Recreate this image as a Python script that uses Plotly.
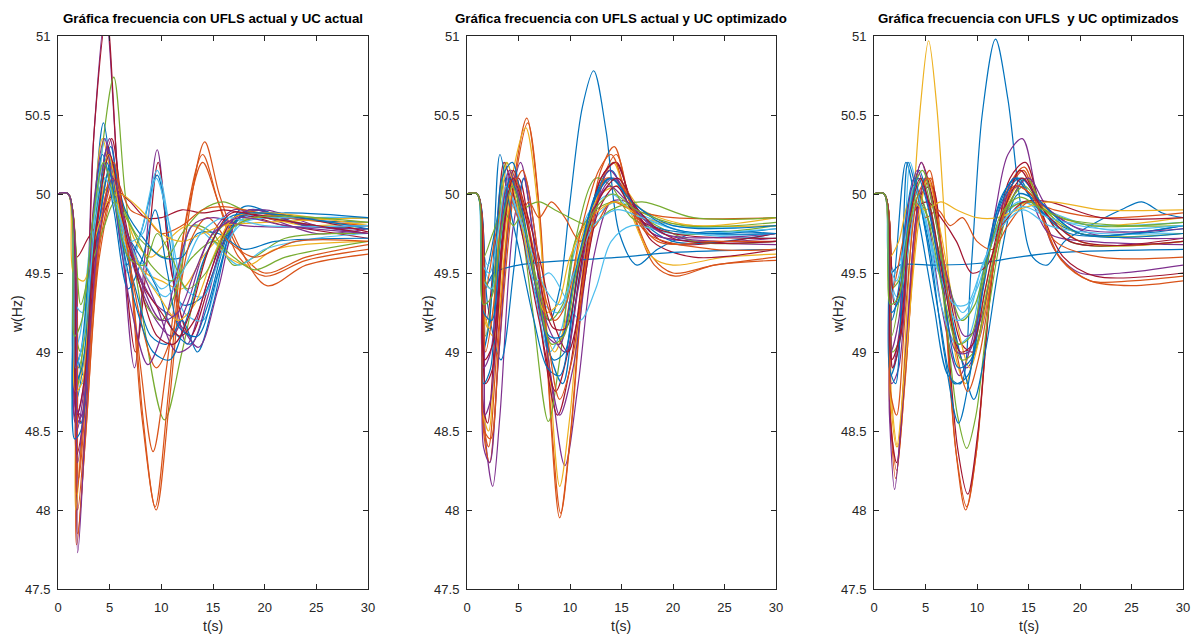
import plotly.graph_objects as go

# MATLAB default line colour order
COLORS = ['#0072BD', '#D95319', '#EDB120', '#7E2F8E', '#77AC30', '#4DBEEE', '#A2142F']

TITLES = [
    'Gráfica frecuencia con UFLS actual y UC actual',
    'Gráfica frecuencia con UFLS actual y UC optimizado',
    'Gráfica frecuencia con UFLS  y UC optimizados',
]

X_TICKS = [0, 5, 10, 15, 20, 25, 30]
Y_TICKS = [47.5, 48, 48.5, 49, 49.5, 50, 50.5, 51]
Y_TICKTEXT = ['47.5', '48', '48.5', '49', '49.5', '50', '50.5', '51']

# --- Scenario 1: UFLS actual, UC actual  (t [s], f [Hz]) ---
p1_curves = [
    [(0,50),(1,50),(1.8,48.6),(2.4,48.75),(3.4,50.3),(4.6,51.15),(5.7,50.2),(7.4,48.9),(8.4,49.6),(9.6,50.28),(10.8,49.6),(12.5,49.05),(14.5,49.45),(17,49.85),(20,49.85),(25,49.75),(30,49.78)],
    [(0,50),(1,50),(1.7,48.7),(2.3,48.55),(3.5,50.4),(4.7,51.12),(5.8,50.1),(7.5,49.0),(8.5,49.5),(9.7,50.2),(11,49.5),(12.8,49.1),(15,49.5),(17.5,49.85),(22,49.8),(30,49.72)],
    [(0,50),(1,50),(2.0,48.9),(2.8,49.2),(4.3,50.3),(5.4,50.74),(6.5,50.0),(8,49.3),(10.3,48.57),(12,49.0),(14,49.55),(16,49.8),(20,49.85),(25,49.8),(30,49.78)],
    [(0,50),(1,50),(1.8,49.0),(2.5,48.85),(3.5,49.9),(4.4,50.45),(5.4,50.0),(6.6,49.55),(8,49.75),(9.6,50.12),(10.8,49.7),(12,49.3),(14,49.35),(16,49.7),(18,49.92),(22,49.85),(30,49.82)],
    [(0,50),(1,50),(1.7,48.9),(2.4,48.8),(3.6,49.9),(4.6,50.35),(5.6,49.95),(6.8,49.5),(8.2,49.8),(9.6,50.15),(10.9,49.75),(12.2,49.25),(14,49.2),(16,49.6),(18,49.85),(22,49.85),(30,49.85)],
    [(0,50),(1,50),(1.8,47.78),(2.6,48.4),(4,49.6),(5.4,50.0),(6.8,49.6),(8.1,48.6),(9.5,48.0),(10.8,48.7),(12.5,49.8),(14.2,50.33),(15.6,50.0),(17.3,49.7),(20.2,49.42),(24,49.55),(30,49.62)],
    [(0,50),(1,50),(1.9,47.85),(2.7,48.5),(4.1,49.7),(5.5,50.05),(6.9,49.6),(8.2,48.6),(9.4,48.02),(10.7,48.75),(12.4,49.85),(14,50.25),(15.5,49.95),(17.5,49.6),(20,49.48),(24,49.58),(30,49.65)],
    [(0,50),(1,50),(1.9,48.0),(2.7,48.6),(4,49.8),(5.3,50.1),(6.8,49.6),(8,48.9),(9.2,48.37),(10.5,48.9),(12.3,49.8),(14,50.2),(15.5,49.95),(17.5,49.65),(20,49.5),(24,49.6),(30,49.68)],
    [(0,50),(1,50),(1.9,47.73),(2.7,48.6),(3.8,49.7),(5,50.15),(6,49.9),(7.5,49.5),(9.5,49.2),(11,49.1),(12.5,49.3),(14.5,49.7),(17,49.9),(20,49.85),(30,49.75)],
    [(0,50),(1,50),(1.7,48.0),(2.4,48.6),(3.5,49.9),(4.3,50.35),(5.2,50.1),(6.5,49.7),(8.5,49.5),(10,49.45),(12,49.4),(14,49.6),(16,49.75),(19,49.85),(24,49.8),(30,49.82)],
    [(0,50),(1,50),(1.6,48.6),(2.2,48.55),(3.3,49.5),(4.8,50.3),(6,49.8),(7.5,49.4),(9,49.1),(10.5,49.05),(12,49.2),(13.5,49.0),(15,49.3),(17,49.8),(19,49.9),(24,49.8),(30,49.78)],
    [(0,50),(1,50),(1.7,48.55),(2.3,48.6),(3.4,49.6),(5,50.35),(6.2,49.85),(7.8,49.5),(9.5,49.3),(11.5,49.2),(13.6,49.03),(15.5,49.4),(17.5,49.85),(20,49.9),(25,49.8),(30,49.75)],
    [(0,50),(1,50),(1.8,48.7),(2.6,49.0),(3.8,49.9),(5.1,50.3),(6.3,49.8),(8,49.6),(9.6,49.4),(11,49.15),(12.8,49.05),(14.5,49.3),(16.5,49.75),(18.5,49.9),(24,49.8),(30,49.8)],
    [(0,50),(1,50),(1.5,49.2),(2.2,49.0),(3.2,49.6),(4.5,50.1),(5.8,49.9),(7,49.7),(8.5,49.3),(10,49.2),(11.5,49.4),(13,49.8),(15,49.75),(17,49.55),(19,49.6),(22,49.72),(30,49.75)],
    [(0,50),(1,50),(1.5,49.0),(2.1,49.1),(3.3,49.8),(4.5,50.2),(5.6,49.9),(7,49.6),(8.4,49.55),(10,49.4),(11.5,49.5),(13,49.8),(15,49.7),(17.5,49.55),(20,49.65),(25,49.72),(30,49.75)],
    [(0,50),(1,50),(2,48.8),(2.8,49.1),(4,49.9),(5,50.15),(6.2,49.95),(7.5,49.7),(9,49.6),(10.5,49.7),(12.5,49.8),(14.5,49.75),(16.5,49.6),(18.5,49.55),(21,49.65),(30,49.7)],
    [(0,50),(1,50),(1.8,49.6),(2.9,49.72),(4.2,49.85),(5.6,50.02),(7,49.95),(8.5,49.85),(10,49.85),(12,49.9),(14,49.88),(16,49.9),(18,49.88),(22,49.85),(30,49.85)],
    [(0,50),(1,50),(1.6,48.7),(2.2,48.9),(3.6,49.8),(4.9,50.05),(6,49.95),(7.5,49.75),(9,49.65),(10.5,49.6),(12,49.75),(14,49.9),(16,49.95),(18,49.9),(24,49.85),(30,49.85)],
    [(0,50),(1,50),(1.6,48.8),(2.3,48.9),(3.5,49.6),(5.2,50.2),(6.5,49.9),(8.5,49.7),(10,49.6),(12,49.6),(13.5,49.75),(15.5,49.75),(18,49.65),(21,49.7),(30,49.72)],
    [(0,50),(1,50),(2,48.2),(2.8,48.8),(4.2,49.8),(5.5,50.1),(7,49.9),(8.5,49.85),(10,49.75),(12,49.8),(14,49.9),(16,49.92),(18,49.9),(22,49.85),(30,49.8)],
    [(0,50),(1,50),(1.8,48.5),(2.4,48.7),(3.6,49.7),(4.8,50.3),(6,49.9),(7.6,49.6),(9.5,49.3),(11.5,49.0),(13,49.05),(14.5,49.35),(16.5,49.8),(18.5,49.9),(24,49.8),(30,49.78)],
    [(0,50),(1,50),(1.7,49.3),(2.4,49.25),(3.6,49.9),(4.5,50.1),(5.6,49.95),(6.8,49.7),(8.2,49.75),(9.5,50.1),(10.8,49.8),(12.3,49.4),(14,49.35),(16,49.65),(18,49.82),(24,49.85),(30,49.85)],
    [(0,50),(1,50),(1.8,48.35),(2.5,48.6),(3.8,49.8),(5.2,50.35),(6.3,49.9),(8,49.45),(10,49.25),(11.8,49.1),(13.2,49.2),(15,49.55),(17,49.85),(20,49.88),(30,49.76)],
    [(0,50),(1,50),(1.5,49.5),(2.5,49.45),(3.5,49.7),(4.8,49.95),(6,50.0),(8,49.9),(10,49.75),(12,49.7),(14,49.75),(16,49.8),(20,49.82),(30,49.85)],
    [(0,50),(1,50),(2.2,49.3),(3,49.5),(4.5,49.8),(5.5,49.95),(7,49.8),(9,49.55),(11,49.45),(13,49.6),(15,49.7),(17,49.6),(19,49.52),(22,49.6),(30,49.7)],
    [(0,50),(1,50),(1.6,48.9),(2.2,49.0),(3.3,49.8),(4.3,50.25),(5.4,49.9),(6.8,49.4),(8.2,49.6),(9.4,49.9),(10.6,49.5),(11.8,49.15),(13.5,49.1),(15.5,49.5),(17.5,49.85),(22,49.88),(30,49.85)],
    [(0,50),(1,50),(1.8,48.1),(2.6,48.7),(4,49.7),(5.4,50.2),(6.6,49.7),(8,49.2),(9.5,48.9),(11,49.1),(12.8,49.7),(14.5,49.85),(16.5,49.7),(19,49.6),(23,49.7),(30,49.7)],
    [(0,50),(1,50),(1.7,48.65),(2.3,48.6),(3.4,49.9),(4.5,50.35),(5.6,49.9),(7,49.3),(8.7,48.92),(10,49.1),(11.5,49.5),(13,49.8),(15,49.85),(18,49.8),(30,49.8)],
    [(0,50),(1,50),(1.7,48.75),(2.3,48.8),(3.5,49.75),(4.9,50.25),(6.1,49.85),(7.8,49.55),(9.8,49.35),(11.6,49.2),(13.2,49.3),(15,49.6),(17,49.85),(20,49.88),(30,49.8)],
    [(0,50),(1,50),(1.6,48.45),(2.2,48.5),(3.4,49.7),(4.7,50.2),(5.9,49.8),(7.5,49.3),(9.2,49.0),(10.8,48.95),(12.4,49.2),(14.2,49.6),(16.5,49.85),(19,49.88),(30,49.78)],
    [(0,50),(1,50),(1.7,48.9),(2.5,49.1),(3.7,49.85),(4.6,50.1),(5.7,49.9),(7.2,49.65),(8.8,49.45),(10.4,49.35),(12,49.5),(13.8,49.75),(16,49.85),(20,49.8),(30,49.8)],
    [(0,50),(1,50),(1.8,48.6),(2.5,48.8),(3.7,49.8),(5,50.25),(6.2,49.85),(7.8,49.45),(9.6,49.1),(11.2,49.05),(12.8,49.25),(14.6,49.65),(16.8,49.88),(20,49.85),(30,49.75)],
    [(0,50),(1,50),(1.6,49.1),(2.3,49.2),(3.4,49.85),(4.4,50.2),(5.5,49.95),(6.8,49.6),(8.3,49.55),(9.6,49.75),(11,49.6),(12.5,49.4),(14.3,49.5),(16.3,49.75),(19,49.85),(30,49.82)],
    [(0,50),(1,50),(1.9,48.3),(2.7,48.8),(4,49.75),(5.3,50.1),(6.7,49.75),(8.3,49.4),(10,49.2),(11.6,49.25),(13.2,49.5),(15,49.75),(17.5,49.85),(22,49.8),(30,49.75)],
]
p1_colors = [3, 6, 4, 0, 5, 1, 1, 1, 3, 2, 0, 3, 0, 4, 5, 2, 6, 4, 0, 1, 3, 5, 6, 2, 4, 0, 1, 3,
             2, 0, 5, 6, 4, 3]

# --- Scenario 2: UFLS actual, UC optimizado ---
p2_curves = [
    [(0,50),(1,50),(1.8,48.45),(2.5,48.15),(3.2,48.6),(4.5,49.8),(5.6,50.1),(6.7,49.7),(8.2,48.8),(9.5,48.28),(10.8,48.8),(12.3,49.6),(14,49.95),(15.5,49.95),(18,49.75),(22,49.7),(30,49.68)],
    [(0,50),(1,50),(1.5,48.6),(2.1,48.4),(3,49.1),(4.6,50.1),(5.8,50.48),(7,49.9),(8,48.7),(9,47.95),(10,48.45),(11.5,49.6),(13,50.15),(14.3,50.3),(15.8,49.95),(18,49.6),(20,49.5),(24,49.55),(30,49.6)],
    [(0,50),(1,50),(1.6,48.5),(2.2,48.3),(3.1,49.0),(4.7,50.1),(5.9,50.45),(7.1,49.85),(8.1,48.65),(9.1,47.98),(10.1,48.5),(11.6,49.6),(13.2,50.1),(14.5,50.25),(16,49.9),(18.2,49.55),(20.2,49.48),(24,49.55),(30,49.58)],
    [(0,50),(1,50),(1.6,48.6),(2.1,48.5),(3,49.3),(4.5,50.15),(5.7,50.42),(6.9,49.9),(8,48.9),(9,48.15),(10,48.6),(11.4,49.6),(13,50.05),(14.2,50.2),(15.8,49.9),(18,49.6),(20,49.55),(25,49.6),(30,49.62)],
    [(0,50),(1,50),(1.5,48.7),(2,48.55),(3,49.4),(4,50.0),(5,50.1),(6,49.8),(7.5,49.0),(8.8,48.6),(10,48.9),(11.5,49.6),(13,50.1),(14.4,50.2),(16,49.95),(18,49.7),(22,49.6),(30,49.65)],
    [(0,50),(1,50),(1.8,49.5),(2.8,49.8),(3.8,50.1),(5,49.9),(6.5,49.4),(8,49.2),(9,49.4),(10,49.95),(11.2,50.55),(12.3,50.78),(13.5,50.4),(14.8,49.75),(16.5,49.55),(18.5,49.65),(22,49.75),(30,49.75)],
    [(0,50),(1,50),(1.5,49.6),(2.2,49.45),(3,49.6),(4,49.95),(5,49.85),(6.5,49.4),(8,49.0),(9.2,49.15),(10.3,49.6),(12,49.9),(14,50.0),(16,49.9),(20,49.8),(30,49.8)],
    [(0,50),(1,50),(1.4,49.7),(2,49.55),(2.8,49.7),(3.6,50.15),(4.5,49.95),(6,49.6),(7.5,49.3),(9,49.25),(10.5,49.55),(12.5,49.85),(14.5,49.95),(17,49.85),(22,49.75),(30,49.72)],
    [(0,50),(1,50),(2,49.3),(3.3,48.95),(4.5,49.5),(5.5,50.1),(6.5,49.7),(8,49.0),(9.3,48.8),(10.5,49.3),(12.5,50.0),(14,50.15),(16,49.9),(20,49.7),(30,49.75)],
    [(0,50),(1,50),(1.8,49.1),(2.8,49.6),(3.8,50.2),(4.8,50.0),(6.3,49.3),(7.9,48.56),(9,48.95),(10.5,49.7),(12.5,50.1),(14,50.05),(16,49.85),(20,49.75),(30,49.8)],
    [(0,50),(1,50),(1.7,49.4),(2.6,49.5),(5,49.55),(10,49.58),(15,49.6),(20,49.63),(30,49.65)],
    [(0,50),(1,50),(1.6,48.4),(2.2,48.3),(3,48.9),(4.2,49.9),(5.2,50.2),(6.3,49.8),(7.8,49.0),(9,48.6),(10.3,48.9),(12,49.7),(13.8,50.15),(15.5,50.0),(18,49.75),(24,49.7),(30,49.72)],
    [(0,50),(1,50),(1.9,49.2),(2.8,49.7),(3.6,50.2),(4.5,50.0),(5.5,49.7),(7,49.2),(8.6,48.75),(9.8,49.0),(11.2,49.6),(13,50.1),(14.5,50.2),(16,49.95),(19,49.7),(30,49.75)],
    [(0,50),(1,50),(1.7,49.2),(2.6,49.1),(3.6,49.6),(4.6,50.1),(5.6,49.9),(7,49.3),(8.5,49.0),(9.6,49.2),(11,49.7),(13,50.0),(15,50.05),(17,49.9),(22,49.8),(30,49.85)],
    [(0,50),(1,50),(1.5,49.5),(2.3,49.4),(3.3,49.8),(4.4,50.1),(5.4,49.85),(6.6,49.5),(8,49.2),(9.3,49.3),(10.5,49.7),(12.5,49.9),(14.5,49.95),(17,49.85),(22,49.7),(30,49.7)],
    [(0,50),(1,50),(1.5,49.0),(2.2,49.2),(3.2,50.25),(4.2,49.9),(5.2,49.6),(6.5,49.2),(7.8,48.9),(9,48.85),(10.3,49.3),(12,49.9),(13.8,50.1),(15.5,50.0),(18,49.8),(24,49.75),(30,49.78)],
    [(0,50),(1,50),(1.8,49.4),(2.8,49.75),(4,50.05),(5,49.85),(6,49.95),(7,49.85),(8.2,49.95),(9.5,49.85),(11,49.7),(12.5,49.8),(14,49.95),(16,49.9),(20,49.85),(30,49.85)],
    [(0,50),(1,50),(1.6,49.45),(2.4,49.4),(3.2,49.7),(4.2,50.0),(5.3,49.8),(6.6,49.45),(8,49.5),(9.5,49.35),(11,49.2),(12.5,49.4),(14,49.7),(16,49.8),(20,49.75),(30,49.78)],
    [(0,50),(1,50),(1.7,48.6),(2.3,48.7),(3.3,49.6),(4.3,50.15),(5.3,49.9),(6.8,49.4),(8.3,49.1),(9.6,49.0),(10.8,49.4),(12.3,49.9),(14.2,50.1),(16,49.95),(19,49.75),(30,49.7)],
    [(0,50),(1,50),(1.6,49.6),(2.5,49.75),(3.5,49.9),(4.5,49.8),(5.5,49.9),(7,49.95),(8.5,49.9),(10,49.85),(12,49.8),(14,49.9),(17,49.95),(22,49.85),(30,49.85)],
    [(0,50),(1,50),(1.8,48.8),(2.5,48.9),(3.5,49.7),(4.5,50.15),(5.5,49.95),(7,49.6),(8.6,49.15),(9.8,49.0),(11,49.3),(12.8,49.9),(14.5,50.05),(16.5,49.85),(20,49.75),(30,49.72)],
    [(0,50),(1,50),(1.5,49.3),(2.2,49.15),(3.1,49.7),(3.9,50.2),(4.8,49.95),(6.2,49.55),(7.6,49.25),(8.8,49.3),(10,49.6),(12,49.85),(14.5,49.95),(17,49.85),(22,49.8),(30,49.8)],
    [(0,50),(1,50),(1.6,48.8),(2.3,48.9),(3.4,50.1),(4.4,50.2),(5.4,49.9),(7,49.3),(8.4,48.95),(9.5,49.0),(10.7,49.5),(12.5,50.0),(14,50.1),(16,49.95),(20,49.8),(30,49.8)],
    [(0,50),(1,50),(1.8,49.0),(2.6,49.3),(3.7,50.0),(4.6,50.1),(5.6,49.9),(7,49.5),(8.5,49.2),(9.6,49.3),(11,49.75),(12.8,50.15),(14,50.25),(15.8,49.95),(18.5,49.7),(24,49.7),(30,49.7)],
    [(0,50),(1,50),(1.6,48.9),(2.3,49.0),(3.3,49.8),(4.1,50.15),(5,49.95),(6.4,49.5),(7.8,49.1),(9,49.05),(10.2,49.4),(12,49.85),(13.8,50.05),(15.6,49.95),(19,49.75),(30,49.75)],
    [(0,50),(1,50),(1.5,49.55),(2.2,49.5),(3,49.75),(3.8,50.05),(4.8,49.9),(6.2,49.65),(7.6,49.4),(9,49.3),(10.4,49.5),(12.3,49.8),(14.5,49.9),(17,49.85),(22,49.75),(30,49.75)],
    [(0,50),(1,50),(1.7,48.5),(2.3,48.45),(3.2,49.2),(4.4,50.0),(5.4,50.15),(6.5,49.8),(7.8,49.1),(9,48.7),(10.2,48.95),(11.8,49.65),(13.5,50.1),(15,50.05),(17.5,49.75),(24,49.65),(30,49.65)],
    [(0,50),(1,50),(1.6,49.25),(2.4,49.2),(3.3,49.75),(4.2,50.1),(5.2,49.9),(6.6,49.45),(8,49.1),(9.2,49.1),(10.5,49.5),(12.3,49.95),(14,50.1),(16,49.95),(20,49.78),(30,49.75)],
    [(0,50),(1,50),(1.7,48.95),(2.5,49.05),(3.5,49.75),(4.5,50.1),(5.5,49.9),(6.9,49.5),(8.4,49.15),(9.6,49.15),(10.9,49.55),(12.7,49.95),(14.6,50.1),(16.6,49.9),(20,49.72),(30,49.7)],
    [(0,50),(1,50),(1.6,49.3),(2.4,49.35),(3.4,49.8),(4.4,50.05),(5.4,49.85),(6.8,49.4),(8.2,49.05),(9.4,49.1),(10.6,49.5),(12.4,49.9),(14.2,50.0),(16.4,49.9),(21,49.8),(30,49.82)],
]
p2_colors = [3, 1, 1, 2, 6, 0, 5, 5, 0, 4, 0, 3, 6, 2, 4, 0, 1, 5, 3, 4, 6, 2, 0, 1,
             3, 5, 1, 0, 6, 4]

# --- Scenario 3: UFLS y UC optimizados ---
p3_curves = [
    [(0,50),(1,50),(1.7,48.7),(2.3,48.4),(3.4,49.5),(4.5,50.55),(5.3,50.97),(6.1,50.55),(7.1,49.6),(8,48.95),(8.9,48.8),(10,49.1),(11.5,49.6),(13,49.85),(15,49.95),(18,49.85),(22,49.8),(30,49.85)],
    [(0,50),(1,50),(1.8,49.4),(3.1,50.2),(4.3,49.85),(5.8,49.3),(7.2,48.85),(8.4,48.8),(9.4,49.5),(10.5,50.5),(11.8,50.98),(13,50.6),(14.2,49.95),(15.4,49.6),(16.8,49.55),(18.5,49.7),(21,49.8),(24,49.9),(26,49.95),(28,49.88),(30,49.85)],
    [(0,50),(1,50),(1.8,48.9),(2.6,49.2),(3.8,50.05),(5,49.9),(6.5,49.3),(8.3,48.85),(9.8,49.15),(11.8,49.9),(13,50.25),(14.4,50.35),(15.8,50.0),(17.5,49.65),(20,49.5),(24,49.5),(30,49.55)],
    [(0,50),(1,50),(1.5,48.7),(2.1,48.2),(3,48.8),(4.4,49.95),(5.4,50.15),(6.5,49.6),(7.9,48.4),(8.9,48.0),(9.9,48.35),(11.4,49.45),(13,50.0),(14.5,50.15),(16,49.9),(18,49.6),(21,49.45),(25,49.42),(30,49.45)],
    [(0,50),(1,50),(1.6,48.6),(2.2,48.25),(3.1,48.9),(4.5,49.95),(5.5,50.1),(6.6,49.55),(8,48.35),(9,48.02),(10,48.4),(11.5,49.5),(13.1,50.05),(14.6,50.17),(16.1,49.9),(18.2,49.58),(21,49.45),(25,49.45),(30,49.48)],
    [(0,50),(1,50),(1.6,48.55),(2.2,48.3),(3.2,49.1),(4.6,50.0),(5.6,50.05),(6.8,49.4),(8.1,48.4),(9.1,48.1),(10.1,48.5),(11.6,49.55),(13.2,50.1),(14.7,50.2),(16.2,49.9),(18.4,49.6),(21.5,49.48),(30,49.5)],
    [(0,50),(1,50),(1.8,49.0),(2.6,49.1),(3.7,49.9),(4.7,50.1),(5.7,49.85),(7,49.2),(8.1,48.6),(9,48.39),(9.9,48.6),(11.2,49.3),(13,49.9),(14.8,50.1),(16.5,49.9),(19,49.7),(30,49.7)],
    [(0,50),(1,50),(1.5,48.6),(2,48.13),(2.8,48.7),(4,49.8),(5,50.1),(6,49.85),(7.5,49.2),(9,48.9),(10.3,49.1),(12,49.7),(13.6,50.1),(15,50.0),(17,49.75),(21,49.7),(30,49.68)],
    [(0,50),(1,50),(1.5,49.5),(2.2,49.35),(3,49.6),(4,50.0),(5,49.85),(6.5,49.3),(8,49.05),(9.2,49.1),(10.6,49.5),(12.5,49.85),(14.5,49.95),(17,49.85),(22,49.8),(30,49.82)],
    [(0,50),(1,50),(1.4,49.6),(2.1,49.5),(2.9,49.7),(3.5,50.2),(4.3,50.0),(5.6,49.6),(7.2,49.4),(8.6,49.25),(10,49.4),(12,49.8),(14,49.95),(16.5,49.9),(22,49.78),(30,49.75)],
    [(0,50),(1,50),(1.7,49.2),(2.6,49.5),(3.3,50.2),(4.2,50.0),(5.3,49.7),(6.8,49.0),(8.2,48.55),(9.3,48.85),(10.6,49.5),(12.5,50.0),(14,50.1),(16,49.9),(20,49.75),(30,49.78)],
    [(0,50),(1,50),(1.6,48.85),(2.3,49.0),(3.4,49.9),(4.4,50.15),(5.4,49.9),(7,49.4),(8.5,48.95),(9.7,48.7),(10.8,49.0),(12.3,49.6),(14,50.0),(16,49.95),(20,49.75),(30,49.8)],
    [(0,50),(1,50),(1.6,49.5),(2.5,49.55),(6,49.55),(10,49.56),(14,49.6),(18,49.63),(30,49.65)],
    [(0,50),(1,50),(1.8,48.9),(2.6,49.1),(3.6,49.9),(4.6,50.2),(5.6,50.0),(7,49.5),(8.5,49.05),(9.6,49.0),(10.8,49.3),(12.5,49.85),(14.2,50.15),(16,49.95),(19,49.7),(30,49.72)],
    [(0,50),(1,50),(1.6,48.7),(2.2,48.4),(3,48.9),(4.3,49.8),(5.2,50.1),(6.5,49.75),(8,49.2),(9.3,48.9),(10.6,49.2),(12.3,49.8),(14,50.05),(16,49.95),(20,49.7),(30,49.7)],
    [(0,50),(1,50),(1.6,49.4),(2.4,49.45),(3.4,49.8),(4.4,49.95),(5.5,49.8),(7,49.5),(8.5,49.2),(9.8,49.3),(11.2,49.65),(13,49.9),(15,49.95),(18,49.85),(24,49.8),(30,49.8)],
    [(0,50),(1,50),(1.8,49.4),(2.8,49.7),(4,50.05),(5,49.85),(6.2,49.9),(7.4,49.8),(8.6,49.85),(10,49.7),(11.5,49.65),(13,49.8),(15,49.95),(17.5,49.9),(22,49.85),(30,49.88)],
    [(0,50),(1,50),(1.7,48.8),(2.4,48.9),(3.6,49.9),(4.6,50.2),(5.6,49.95),(7.2,49.45),(8.8,49.1),(10,49.15),(11.5,49.55),(13.2,49.95),(15,50.1),(17,49.9),(21,49.75),(30,49.72)],
    [(0,50),(1,50),(2,49.3),(3,49.55),(4,49.9),(5.2,49.95),(6.5,49.85),(8,49.7),(9.5,49.5),(11,49.55),(12.5,49.8),(14.5,49.95),(17,49.95),(22,49.85),(30,49.85)],
    [(0,50),(1,50),(1.5,49.6),(2.4,49.7),(3.5,49.95),(5,49.9),(6.5,49.95),(8,49.9),(10,49.85),(12,49.85),(14,49.9),(17,49.95),(22,49.9),(30,49.9)],
    [(0,50),(1,50),(1.5,49.45),(2.3,49.3),(3.2,49.6),(4.2,49.95),(5.3,49.75),(6.6,49.45),(8,49.2),(9.2,49.25),(10.5,49.55),(12.5,49.8),(14.5,49.9),(17,49.8),(22,49.75),(30,49.75)],
    [(0,50),(1,50),(1.7,49.1),(2.6,49.4),(3.7,50.0),(4.7,50.15),(5.8,49.9),(7.2,49.35),(8.5,48.95),(9.7,49.0),(11,49.4),(12.8,49.9),(14.6,50.05),(16.5,49.9),(20,49.75),(30,49.75)],
    [(0,50),(1,50),(1.5,48.9),(2.1,48.8),(3,49.8),(3.9,50.1),(4.9,49.8),(6.4,49.2),(7.8,48.8),(9.1,48.85),(10.3,49.3),(12,49.9),(13.7,50.1),(15.5,49.95),(19,49.75),(30,49.8)],
    [(0,50),(1,50),(1.6,49.0),(2.4,49.2),(3.3,49.9),(4.2,50.15),(5.2,49.95),(6.6,49.45),(8,49.0),(9.2,49.0),(10.4,49.35),(12.2,49.9),(14,50.05),(16,49.95),(20,49.78),(30,49.78)],
    [(0,50),(1,50),(1.5,49.55),(2.2,49.45),(3,49.7),(3.9,50.05),(4.9,49.85),(6.3,49.5),(7.8,49.3),(9,49.3),(10.3,49.5),(12.2,49.8),(14.4,49.92),(17,49.85),(22,49.78),(30,49.8)],
    [(0,50),(1,50),(1.6,48.75),(2.2,48.6),(3.1,49.3),(4.3,50.0),(5.3,50.1),(6.5,49.7),(8,49.0),(9.1,48.75),(10.3,49.0),(11.9,49.65),(13.6,50.05),(15.2,50.0),(17.6,49.7),(22,49.6),(30,49.6)],
    [(0,50),(1,50),(1.7,49.25),(2.5,49.35),(3.4,49.85),(4.3,50.1),(5.3,49.9),(6.8,49.35),(8.2,48.9),(9.4,48.95),(10.6,49.4),(12.4,49.95),(14.2,50.1),(16.2,49.95),(20,49.75),(30,49.75)],
    [(0,50),(1,50),(1.7,48.95),(2.5,49.1),(3.5,49.85),(4.5,50.1),(5.5,49.9),(6.9,49.4),(8.4,49.0),(9.6,49.05),(10.8,49.4),(12.6,49.9),(14.4,50.1),(16.4,49.9),(20,49.7),(30,49.7)],
    [(0,50),(1,50),(1.6,49.3),(2.4,49.35),(3.4,49.8),(4.4,50.0),(5.4,49.8),(6.8,49.35),(8.2,49.05),(9.4,49.1),(10.6,49.45),(12.4,49.88),(14.2,49.98),(16.4,49.9),(21,49.8),(30,49.82)],
]
p3_colors = [2, 0, 3, 1, 1, 6, 4, 3, 5, 5, 0, 0, 0, 6, 2, 4, 1, 3, 6, 2, 5, 4, 0,
             3, 5, 1, 0, 6, 4]

FONT = 'Liberation Sans, Arial, sans-serif'
INK = '#262626'

X_DOMAINS = [[58 / 1197, 368 / 1197], [467 / 1197, 776 / 1197], [874 / 1197, 1183 / 1197]]
Y_DOMAIN = [1 - 589 / 637, 1 - 36 / 637]

fig = go.Figure()
panels = [(p1_curves, p1_colors), (p2_curves, p2_colors), (p3_curves, p3_colors)]
for i, (curves, cols) in enumerate(panels):
    suffix = '' if i == 0 else str(i + 1)
    for curve, c in zip(curves, cols):
        fig.add_trace(go.Scatter(
            x=[p[0] for p in curve], y=[p[1] for p in curve],
            mode='lines', line=dict(color=COLORS[c], width=1.2, shape='spline', smoothing=0.9),
            xaxis='x' + suffix, yaxis='y' + suffix, showlegend=False, hoverinfo='skip'))

axis_common = dict(showgrid=False, zeroline=False, showline=True, mirror='ticks',
                   linecolor=INK, linewidth=1, ticks='inside', ticklen=5, tickcolor=INK,
                   tickfont=dict(family=FONT, size=13, color=INK))
layout = dict(width=1197, height=637,
              margin=dict(l=0, r=0, t=0, b=0, autoexpand=False),
              plot_bgcolor='white', paper_bgcolor='white', showlegend=False)
for i in range(3):
    suffix = '' if i == 0 else str(i + 1)
    layout['xaxis' + suffix] = dict(axis_common, domain=X_DOMAINS[i], range=[0, 30],
                                    tickvals=X_TICKS, anchor='y' + suffix, ticklabelstandoff=6)
    layout['yaxis' + suffix] = dict(axis_common, domain=Y_DOMAIN, range=[47.5, 51],
                                    tickvals=Y_TICKS, ticktext=Y_TICKTEXT,
                                    anchor='x' + suffix, ticklabelstandoff=4)
fig.update_layout(**layout)

ann = []
ylab_x = [17, 428, 838]
for i in range(3):
    cx = (X_DOMAINS[i][0] + X_DOMAINS[i][1]) / 2
    ann.append(dict(text='<b>' + TITLES[i] + '</b>', x=cx, y=1 - 19 / 637, xref='paper', yref='paper',
                    showarrow=False, font=dict(family=FONT, size=13.3, color='black'),
                    xanchor='center', yanchor='middle'))
    ann.append(dict(text='t(s)', x=cx, y=1 - 626 / 637, xref='paper', yref='paper',
                    showarrow=False, font=dict(family=FONT, size=14, color=INK),
                    xanchor='center', yanchor='middle'))
    ann.append(dict(text='w(Hz)', x=ylab_x[i] / 1197, y=1 - 314 / 637, xref='paper', yref='paper',
                    showarrow=False, textangle=-90, font=dict(family=FONT, size=14, color=INK),
                    xanchor='center', yanchor='middle'))
fig.update_layout(annotations=ann)

fig.write_html('out.html')
